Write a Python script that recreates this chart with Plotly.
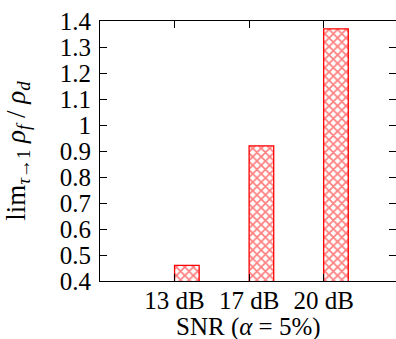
import plotly.graph_objects as go

categories = ["13 dB", "17 dB", "20 dB"]
values = [0.46, 0.92, 1.37]
positions = [0, 1, 2]
yticks = [0.4, 0.5, 0.6, 0.7, 0.8, 0.9, 1.0, 1.1, 1.2, 1.3, 1.4]
yticklabels = ["0.4", "0.5", "0.6", "0.7", "0.8", "0.9", "1", "1.1", "1.2", "1.3", "1.4"]
xtitle = "SNR (<i>α</i> = 5%)"
ytitle = "lim<sub><i>τ</i>→1</sub> <i>ρ<sub>f</sub></i> / <i>ρ<sub>d</sub></i>"

fig = go.Figure()
fig.add_trace(go.Bar(
    x=positions, y=values,
    offset=0, width=0.33,
    marker=dict(color="white", line=dict(color="red", width=1.3),
                pattern=dict(shape="x", fgcolor="red", bgcolor="white", size=6, solidity=0.5)),
))

font = "Liberation Serif"
fig.update_layout(
    width=396, height=339,
    margin=dict(l=100, r=0, t=21, b=58),
    paper_bgcolor="white", plot_bgcolor="white",
    showlegend=False,
    font=dict(family=font, size=25, color="black"),
    xaxis=dict(
        range=[-1, 2.97], tickmode="array", tickvals=positions, ticktext=categories,
        ticks="inside", ticklen=7, tickcolor="black", showline=True, linecolor="black",
        linewidth=1.2, mirror="ticks", showgrid=False, zeroline=False, automargin=False,
        ticklabelstandoff=-3,
        tickfont=dict(size=25),
    ),
    yaxis=dict(
        range=[0.4, 1.4], tickmode="array", tickvals=yticks, ticktext=yticklabels,
        ticks="inside", ticklen=7, tickcolor="black", showline=True, linecolor="black",
        linewidth=1.2, mirror="ticks", showgrid=False, zeroline=False, automargin=False,
        ticklabelstandoff=3,
        title=dict(text=ytitle, standoff=26, font=dict(size=27)),
        tickfont=dict(size=25),
    ),
    annotations=[dict(text=xtitle, xref="paper", yref="paper", x=0.5, y=-0.177,
                      xanchor="center", yanchor="middle", showarrow=False,
                      font=dict(size=25))],
)
fig.write_html("out.html", config={"displayModeBar": False},
               post_script="document.body.style.margin='0';document.body.style.overflow='hidden';")
